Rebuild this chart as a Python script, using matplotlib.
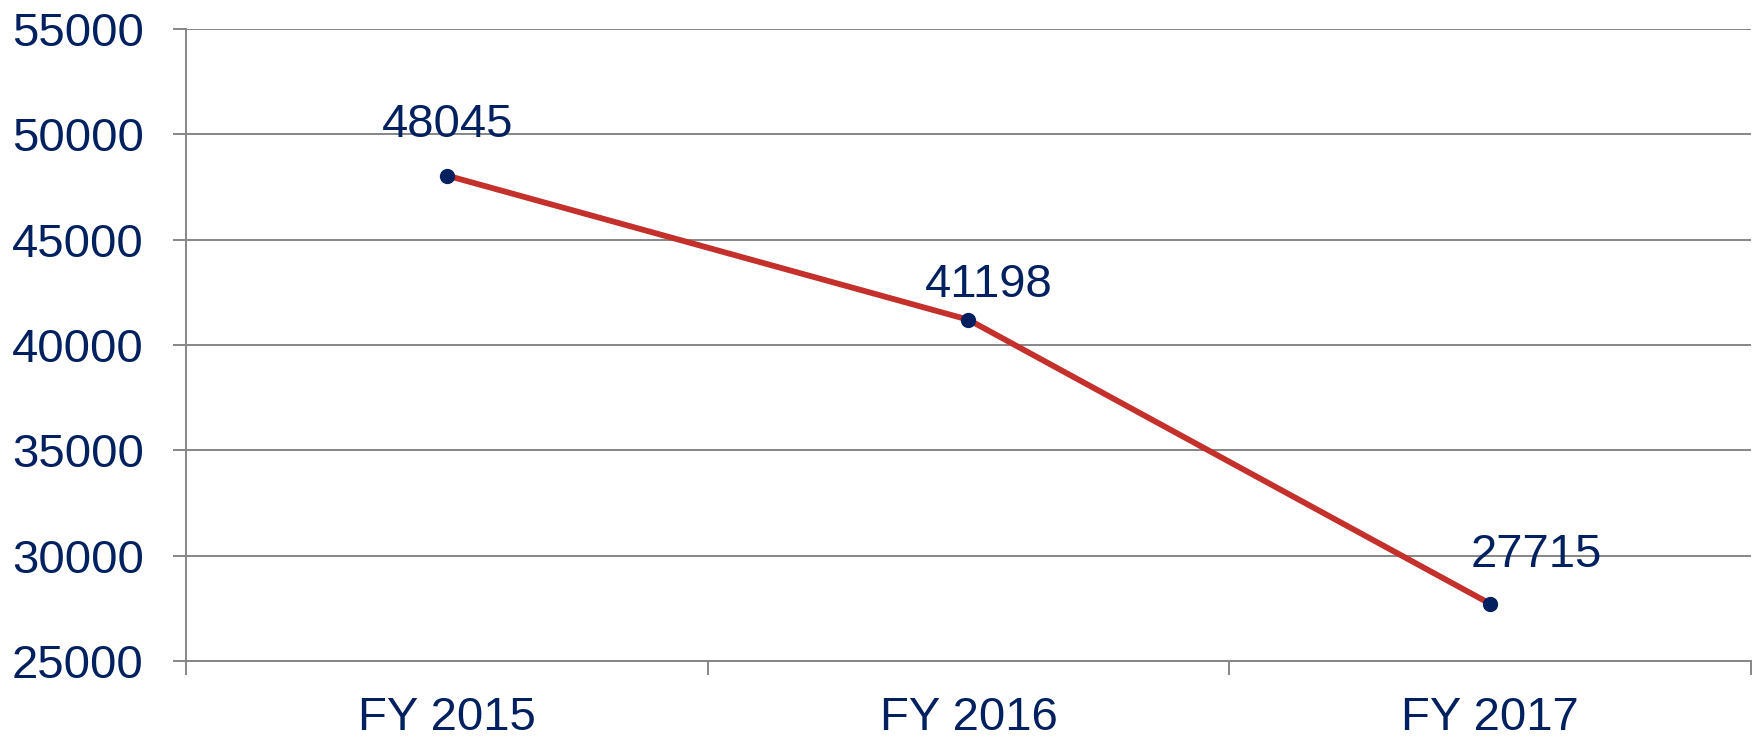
import matplotlib.pyplot as plt

categories = ['FY 2015', 'FY 2016', 'FY 2017']
values = [48045, 41198, 27715]
y_ticks = [25000, 30000, 35000, 40000, 45000, 50000, 55000]

# where each value label sits relative to its point (points)
label_offsets = [(0.7, 28), (14.4, 16.6), (33, 26.6)]

navy = '#002060'
red = '#C4302B'
grey = '#868686'

plt.rcParams['font.family'] = ['Liberation Sans', 'DejaVu Sans']

fig = plt.figure(figsize=(17.58, 7.40), dpi=100)
ax = fig.add_axes([0.1058, 0.1068, 0.996 - 0.1058, 0.9608 - 0.1068])

xs = list(range(len(categories)))
ax.plot(xs, values, color=red, linewidth=4.2, zorder=3)
ax.plot(xs, values, 'o', color=navy, markersize=10, zorder=4)

for x, v, off in zip(xs, values, label_offsets):
    ax.annotate(str(v), xy=(x, v), xytext=off, textcoords='offset points',
                ha='center', va='baseline', fontsize=34, color=navy)

ax.set_xlim(-0.5, len(categories) - 0.5)
ax.set_ylim(y_ticks[0], y_ticks[-1])
ax.set_yticks(y_ticks)
ax.set_yticklabels([str(t) for t in y_ticks])
ax.set_xticks(xs)
ax.set_xticklabels(categories)
ax.set_xticks([x - 0.5 for x in range(len(categories) + 1)], minor=True)

ax.tick_params(axis='y', length=9.4, width=1.4, color=grey, pad=21,
               labelsize=34, labelcolor=navy)
ax.tick_params(axis='x', which='major', length=0, pad=25, labelsize=34,
               labelcolor=navy)
ax.tick_params(axis='x', which='minor', length=10, width=1.4, color=grey)

ax.grid(True, axis='y', color=grey, linewidth=1.4)
for side in ['top', 'right']:
    ax.spines[side].set_visible(False)
for side in ['left', 'bottom']:
    ax.spines[side].set_color(grey)
    ax.spines[side].set_linewidth(1.4)

plt.savefig('out.png', dpi=100)
